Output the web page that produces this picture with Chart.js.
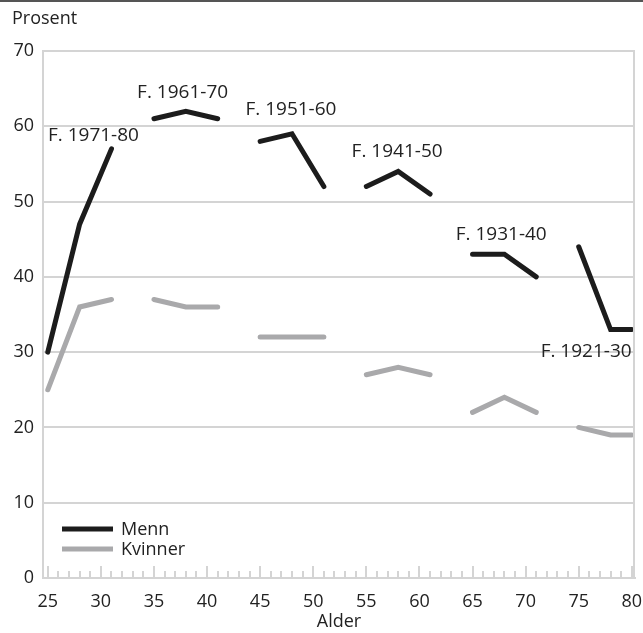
<!DOCTYPE html>
<html>
<head>
<meta charset="utf-8">
<script src="https://cdn.jsdelivr.net/npm/chart.js@4"></script>
<style>
  body { margin: 0; background: #fff; }
  #wrap { width: 643px; height: 633px; }
</style>
</head>
<body>
<div id="wrap"><canvas id="chart" width="643" height="633"></canvas></div>
<script>
// --- Data ---
const ages = [25, 28, 31, 35, 38, 41, 45, 48, 51, 55, 58, 61, 65, 68, 71, 75, 78, 80];
const cohortIndex = [0, 0, 0, 1, 1, 1, 2, 2, 2, 3, 3, 3, 4, 4, 4, 5, 5, 5];
const menn = [30, 47, 57, 61, 62, 61, 58, 59, 52, 52, 54, 51, 43, 43, 40, 44, 33, 33];
const kvinner = [25, 36, 37, 37, 36, 36, 32, 32, 32, 27, 28, 27, 22, 24, 22, 20, 19, 19];
const cohorts = ['F. 1971-80', 'F. 1961-70', 'F. 1951-60', 'F. 1941-50', 'F. 1931-40', 'F. 1921-30'];
// where the cohort names sit (age, percent)
const labelAge = [29.3, 37.7, 47.9, 57.9, 67.7, 75.7];
const labelPct = [58.8, 64.5, 62.2, 56.6, 45.6, 30.1];
const xTicks = [25, 30, 35, 40, 45, 50, 55, 60, 65, 70, 75, 80];
const seriesNames = ['Menn', 'Kvinner'];
const colors = ['#1c1c1c', '#a9a9ab'];

const FONT = '"Open Sans", "DejaVu Sans", sans-serif';
const GRID = '#d4d4d4';

// Bryt linja mellom kohortene
function toPoints(values) {
    const pts = [];
    values.forEach((v, i) => {
        if (i > 0 && cohortIndex[i] !== cohortIndex[i - 1]) {
            pts.push({ x: (ages[i] + ages[i - 1]) / 2, y: null });
        }
        pts.push({ x: ages[i], y: v });
    });
    return pts;
}

// --- Egen plugin: ramme, småstreker, etiketter, tegnforklaring ---
const decor = {
    id: 'decor',
    beforeDraw(chart) {
        const c = chart.ctx;
        c.save();
        c.fillStyle = '#555';
        c.fillRect(0, 0, chart.width, 2);
        c.fillStyle = '#222';
        c.font = '18px ' + FONT;
        c.textBaseline = 'middle';
        c.fillText('Prosent', 12, 19);
        c.restore();
    },
    afterDraw(chart) {
        const c = chart.ctx;
        const area = chart.chartArea;
        const xs = chart.scales.x;
        c.save();
        // høyre kant
        c.strokeStyle = GRID;
        c.lineWidth = 2;
        c.beginPath();
        c.moveTo(area.right - 1, area.top);
        c.lineTo(area.right - 1, area.bottom);
        c.stroke();
        // småstreker på x-aksen
        for (let a = 25; a <= 80; a++) {
            const px = Math.round(xs.getPixelForValue(a));
            const len = a % 5 === 0 ? 12 : 7;
            c.beginPath();
            c.moveTo(px, area.bottom);
            c.lineTo(px, area.bottom - len);
            c.stroke();
        }
        c.restore();
    },
    afterDatasetsDraw(chart) {
        const c = chart.ctx;
        const xs = chart.scales.x;
        const ys = chart.scales.y;
        c.save();
        c.fillStyle = '#222';
        c.font = '19px ' + FONT;
        c.textAlign = 'center';
        c.textBaseline = 'middle';
        cohorts.forEach((t, i) => {
            c.fillText(t, xs.getPixelForValue(labelAge[i]), ys.getPixelForValue(labelPct[i]));
        });
        // tegnforklaring
        c.textAlign = 'left';
        c.font = '18px ' + FONT;
        seriesNames.forEach((n, i) => {
            const y = 529 + i * 20;
            c.strokeStyle = colors[i];
            c.lineWidth = 5;
            c.beginPath();
            c.moveTo(62, y);
            c.lineTo(113, y);
            c.stroke();
            c.fillText(n, 121, y + 1);
        });
        c.restore();
    }
};

new Chart(document.getElementById('chart'), {
    type: 'line',
    data: {
        datasets: [menn, kvinner].map((vals, i) => ({
            label: seriesNames[i],
            data: toPoints(vals),
            borderColor: colors[i],
            borderWidth: 5,
            borderCapStyle: 'round',
            borderJoinStyle: 'miter',
            pointRadius: 0,
            spanGaps: false,
            fill: false,
            tension: 0
        })).reverse()
    },
    options: {
        responsive: false,
        animation: false,
        layout: { padding: { top: 51, right: 8, left: 0, bottom: 0 } },
        plugins: { legend: { display: false }, tooltip: { enabled: false } },
        scales: {
            x: {
                type: 'linear',
                min: 24.55,
                max: 80.3,
                afterBuildTicks: (s) => { s.ticks = xTicks.map(v => ({ value: v })); },
                afterFit: (s) => { s.height = 55; s.paddingLeft = 0; s.paddingRight = 0; },
                grid: { display: false },
                border: { display: true, color: GRID, width: 2 },
                ticks: { color: '#222', font: { family: FONT, size: 18 }, padding: 5, maxRotation: 0 },
                title: { display: true, text: 'Alder', color: '#222', font: { family: FONT, size: 18 }, padding: { top: -6, bottom: 0 } }
            },
            y: {
                min: 0,
                max: 70,
                afterFit: (s) => { s.width = 43; },
                grid: { color: GRID, lineWidth: 2, drawTicks: false },
                border: { display: true, color: GRID, width: 2 },
                ticks: { stepSize: 10, color: '#222', font: { family: FONT, size: 18 }, padding: 9 }
            }
        }
    },
    plugins: [decor]
});
</script>
</body>
</html>
